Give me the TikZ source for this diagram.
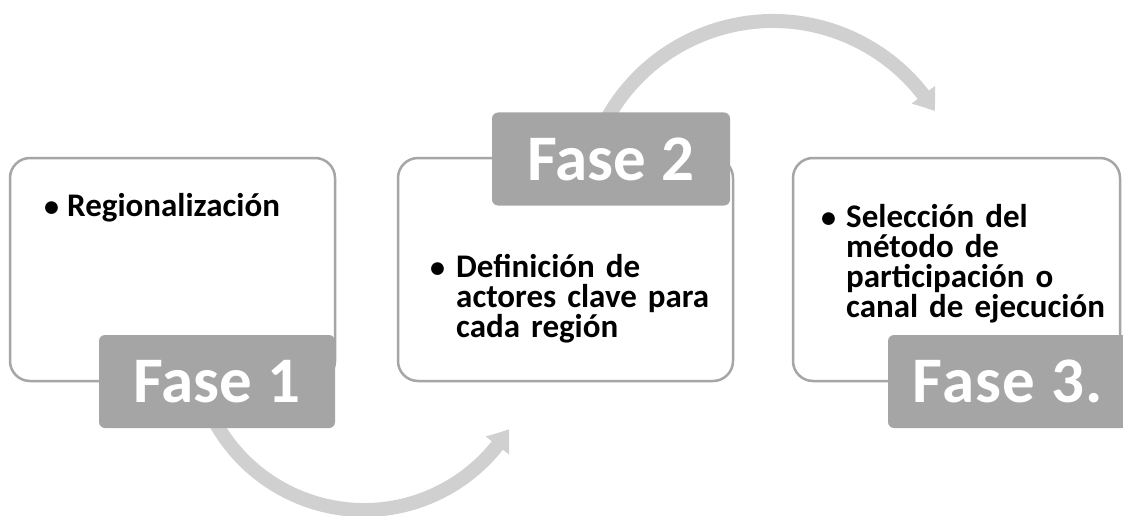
\documentclass[tikz,border=0pt]{standalone}
\usepackage{fontspec}
\setmainfont{Carlito}
\usetikzlibrary{arrows.meta,bending}
\definecolor{boxline}{RGB}{166,166,166}
\definecolor{labelfill}{RGB}{165,165,165}
\definecolor{arrowfill}{RGB}{208,208,208}
\begin{document}
\begin{tikzpicture}[x=1pt,y=1pt,
  phasebox/.style={draw=boxline, line width=2.5pt, fill=white, rounded corners=20pt, minimum height=223pt, inner sep=0pt},
  phaselabel/.style={fill=labelfill, rounded corners=6pt, minimum height=93pt, inner sep=0pt, text=white, font=\bfseries\fontsize{65}{65}\selectfont},
  flowarrow/.style={draw=arrowfill, line width=14pt, -{Triangle[length=20pt,width=28pt,bend]}},
  bodytext/.style={anchor=base west, align=left, inner sep=0pt, font=\bfseries\fontsize{33}{30}\selectfont, text width=290pt},
  bulletmark/.style={anchor=base west, inner sep=0pt, font=\bfseries\fontsize{30}{30}\selectfont}]
\useasboundingbox (0,0) rectangle (1123,-516);
\fill[white] (0,0) rectangle (1123,-516);
% boxes
\node[phasebox, minimum width=325pt] (box1) at (172.5,-269.5) {};
\node[phasebox, minimum width=335pt] (box2) at (565.5,-269.5) {};
\node[phasebox, minimum width=327pt] (box3) at (956.5,-269.5) {};
% arrows
\coordinate (c1) at (364,-340);
\coordinate (c2) at (773,-211);
\draw[flowarrow] ([shift={(-152:170)}]c1) arc[start angle=-152, end angle=-31.6, radius=170];
\draw[flowarrow] ([shift={(152:190)}]c2) arc[start angle=152, end angle=31.7, radius=190];
% labels
\node[phaselabel, minimum width=236pt] (lab1) at (217,-381.5) {Fase 1};
\node[phaselabel, minimum width=238pt] (lab2) at (611,-159) {Fase 2};
\node[phaselabel, minimum width=240pt] (lab3) at (1008,-381.5) {\addfontfeature{LetterSpace=2}Fase 3.};
% texts
\node[bulletmark] (b1) at (44,-216) {•};
\node[bodytext] (t1) at (67,-216) {Regionalización};
\node[bulletmark] (b2) at (430,-277) {•};
\node[bodytext] (t2) at (456,-277) {Definición de\\actores clave para\\cada región};
\node[bulletmark] (b3) at (821,-227) {•};
\node[bodytext] (t3) at (846,-227) {Selección del\\método de\\participación o\\canal de ejecución};
\end{tikzpicture}
\end{document}
